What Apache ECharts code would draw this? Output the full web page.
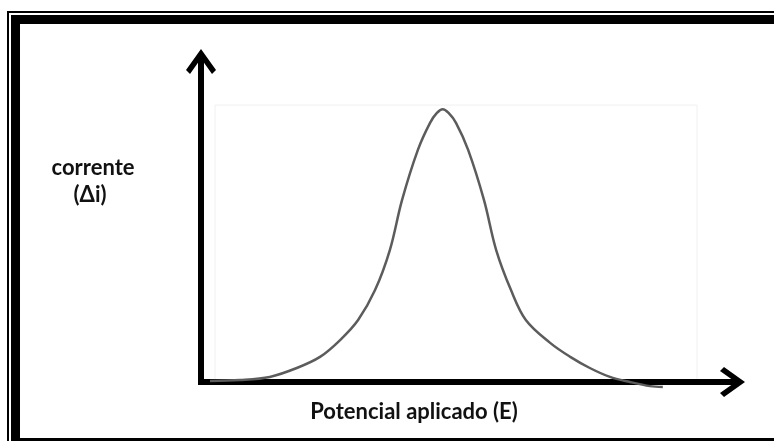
<!DOCTYPE html>
<html>
<head>
<meta charset="utf-8">
<script src="https://cdn.jsdelivr.net/npm/echarts@6/dist/echarts.min.js"></script>
<style>
html,body{margin:0;padding:0;background:#fff;}
#chart{width:774px;height:441px;}
</style>
</head>
<body>
<div id="chart"></div>
<script>
// Potential applied (E), arbitrary units
var potentialE = [1.7, 7.4, 13.0, 18.1, 22.5, 26.3, 29.7, 32.9, 35.7, 38.0, 41.0, 43.3, 44.6, 45.7, 46.8, 48.2, 50.5, 53.5, 55.8, 58.6, 61.4, 66.0, 69.8, 73.5, 77.3, 81.1, 84.9, 87.3];
// Current (Δi), arbitrary units
var currentDi = [0.3, 0.6, 1.6, 4.4, 7.9, 13.2, 19.5, 28.9, 41.5, 57.2, 73.0, 81.5, 84.6, 85.8, 84.6, 81.5, 73.0, 57.2, 41.5, 28.9, 19.5, 12.3, 7.9, 4.4, 1.6, 0.0, -1.3, -1.6];
var yLabelTop = 'corrente';
var yLabelBottom = '(Δi)';
var xLabel = 'Potencial aplicado (E)';

var pts = potentialE.map(function (x, i) { return [x, currentDi[i]]; });
var arrowPath = 'path://M15,0 L30,21 L26,25 L17.5,13 L17.5,30 L12.5,30 L12.5,13 L4,25 L0,21 Z';
var labelFont = 'bold 22px Lato, sans-serif';

var chart = echarts.init(document.getElementById('chart'), null, {renderer: 'canvas'});
chart.setOption({
  backgroundColor: '#fff',
  animation: false,
  grid: {left: 201, right: 44, top: 64, bottom: 59, containLabel: false},
  xAxis: {
    type: 'value', min: 0, max: 100,
    axisLine: {show: true, symbol: ['none', arrowPath], symbolSize: [30, 30],
      lineStyle: {color: '#000', width: 6, cap: 'square'}},
    axisTick: {show: false}, axisLabel: {show: false}, splitLine: {show: false}
  },
  yAxis: {
    type: 'value', min: 0, max: 100,
    axisLine: {show: true, symbol: ['none', arrowPath], symbolSize: [30, 30],
      lineStyle: {color: '#000', width: 6, cap: 'square'}},
    axisTick: {show: false}, axisLabel: {show: false}, splitLine: {show: false}
  },
  graphic: [
    {type: 'rect', shape: {x: 7, y: 11, width: 2, height: 430}, style: {fill: '#000'}},
    {type: 'rect', shape: {x: 7, y: 11, width: 767, height: 2}, style: {fill: '#000'}},
    {type: 'rect', shape: {x: 11, y: 15, width: 9, height: 426}, style: {fill: '#000'}},
    {type: 'rect', shape: {x: 11, y: 15, width: 763, height: 9}, style: {fill: '#000'}},
    {type: 'rect', shape: {x: 20, y: 438, width: 754, height: 3}, style: {fill: '#000'}},
    {type: 'rect', z: -1, shape: {x: 215, y: 105, width: 482, height: 276}, style: {fill: 'none', stroke: '#f0f0f0', lineWidth: 1}},
    {type: 'text', x: 93, y: 157, style: {text: yLabelTop, font: labelFont, fill: '#111', textAlign: 'center'}},
    {type: 'text', x: 90, y: 184, style: {text: yLabelBottom, font: labelFont, fill: '#111', textAlign: 'center'}},
    {type: 'text', x: 414, y: 401, style: {text: xLabel, font: labelFont, fill: '#111', textAlign: 'center'}}
  ],
  series: [{
    type: 'line',
    data: pts,
    smooth: 0.35,
    clip: false,
    showSymbol: false,
    lineStyle: {color: '#5c5c5c', width: 2.5}
  }]
});
</script>
</body>
</html>
